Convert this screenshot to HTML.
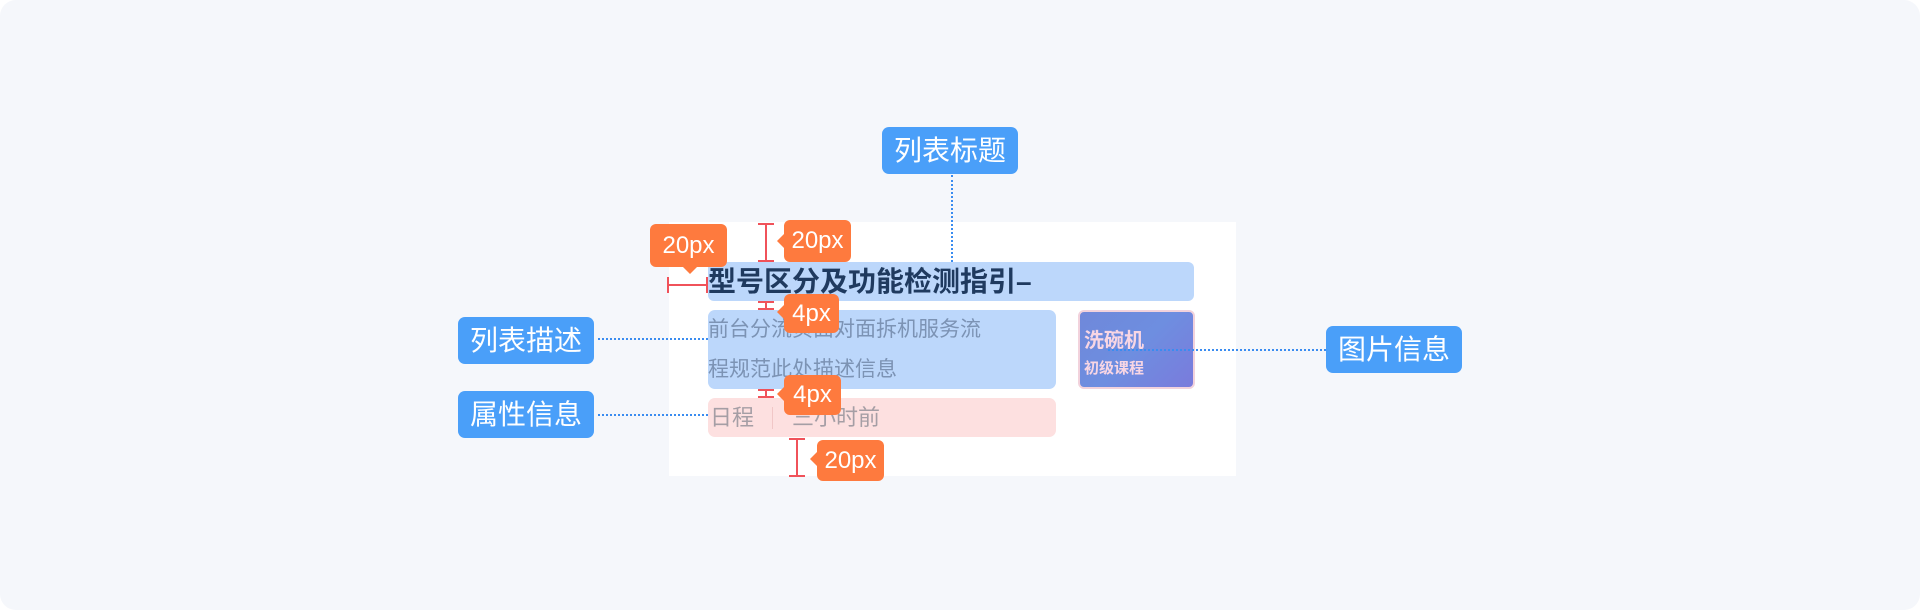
<!DOCTYPE html>
<html><head><meta charset="utf-8"><style>
*{margin:0;padding:0;box-sizing:border-box}
body{width:1920px;height:610px;background:#fff;position:relative;overflow:hidden;font-family:"Liberation Sans","Noto Sans CJK SC",sans-serif}
.a{position:absolute}
.bg{left:0;top:0;width:1920px;height:610px;background:#f5f7fb;border-radius:16px}
.lab{background:#4a9ff9;color:#fff;border-radius:7px;font-size:28px;text-align:center;line-height:47px;height:47px;width:136px}
.tag{background:#fe7a3e;color:#fff;border-radius:6px;font-size:24px;text-align:center}
.dv{border-left:2px dotted #3a8cf0}
.dh{border-top:2px dotted #3a8cf0}
.rv{background:#f0525a;width:2px}
.rh{background:#f0525a;height:2px}
</style></head><body>
<div class="a bg"></div>
<div class="a" style="left:669px;top:222px;width:567px;height:254px;background:#fff"></div>

<div class="a" style="left:708px;top:262px;width:486px;height:39px;background:#bcd7fb;border-radius:6px"></div>
<div class="a" style="left:708px;top:262px;font-size:28px;font-weight:bold;color:#1f3a5f;line-height:39px;white-space:nowrap">型号区分及功能检测指引–</div>

<div class="a" style="left:708px;top:310px;width:348px;height:79px;background:#bcd7fb;border-radius:7px"></div>
<div class="a" style="left:708px;top:310px;font-size:21px;color:#7c93b4;line-height:40px;width:360px;white-space:nowrap">前台分流页面对面拆机服务流<br>程规范此处描述信息</div>

<div class="a" style="left:1078px;top:310px;width:117px;height:79px;border-radius:6px;border:2px solid #f2d2dc;background:linear-gradient(135deg,#6f88da,#6e8ee0 50%,#7a7bdc)"></div>
<div class="a" style="left:1084px;top:328px;color:#f8d6e4;font-weight:bold;font-size:20px;line-height:26px">洗碗机<br><span style="font-size:15px">初级课程</span></div>

<div class="a" style="left:708px;top:398px;width:348px;height:39px;background:#fde0e0;border-radius:7px"></div>
<div class="a" style="left:710px;top:399px;font-size:22px;color:#a59ea5;line-height:37px;white-space:nowrap">日程</div>
<div class="a" style="left:772px;top:407px;width:1px;height:22px;background:#f1c7c7"></div>
<div class="a" style="left:792px;top:399px;font-size:22px;color:#a59ea5;line-height:37px;white-space:nowrap">三小时前</div>

<!-- labels -->
<div class="a lab" style="left:882px;top:127px">列表标题</div>
<div class="a lab" style="left:458px;top:317px">列表描述</div>
<div class="a lab" style="left:458px;top:391px">属性信息</div>
<div class="a lab" style="left:1326px;top:326px">图片信息</div>
<div class="a dv" style="left:951px;top:175px;height:87px"></div>
<div class="a dh" style="left:598px;top:338px;width:110px"></div>
<div class="a dh" style="left:598px;top:414px;width:110px"></div>
<div class="a dh" style="left:1108px;top:349px;width:218px"></div>

<!-- red markers -->
<div class="a rh" style="left:667px;top:284px;width:41px"></div>
<div class="a rv" style="left:667px;top:277px;height:16px"></div>
<div class="a rv" style="left:706px;top:277px;height:16px"></div>

<div class="a rv" style="left:765px;top:223px;height:39px"></div>
<div class="a rh" style="left:758px;top:223px;width:16px"></div>
<div class="a rh" style="left:758px;top:260px;width:16px"></div>

<div class="a rv" style="left:765px;top:301px;height:9px"></div>
<div class="a rh" style="left:758px;top:301px;width:16px"></div>
<div class="a rh" style="left:758px;top:308px;width:16px"></div>

<div class="a rv" style="left:765px;top:389px;height:9px"></div>
<div class="a rh" style="left:758px;top:389px;width:16px"></div>
<div class="a rh" style="left:758px;top:396px;width:16px"></div>

<div class="a rv" style="left:796px;top:438px;height:39px"></div>
<div class="a rh" style="left:789px;top:438px;width:16px"></div>
<div class="a rh" style="left:789px;top:475px;width:16px"></div>

<!-- tags -->
<div class="a tag" style="left:650px;top:224px;width:77px;height:43px;line-height:43px">20px</div>
<div class="a" style="left:682px;top:266px;border-left:8px solid transparent;border-right:8px solid transparent;border-top:8px solid #fe7a3e"></div>

<div class="a tag" style="left:784px;top:220px;width:67px;height:42px;line-height:42px">20px</div>
<div class="a" style="left:777px;top:234px;border-top:7px solid transparent;border-bottom:7px solid transparent;border-right:7px solid #fe7a3e"></div>

<div class="a tag" style="left:784px;top:294px;width:55px;height:39px;line-height:39px">4px</div>
<div class="a" style="left:777px;top:305px;border-top:7px solid transparent;border-bottom:7px solid transparent;border-right:7px solid #fe7a3e"></div>

<div class="a tag" style="left:784px;top:375px;width:57px;height:40px;line-height:40px">4px</div>
<div class="a" style="left:777px;top:387px;border-top:7px solid transparent;border-bottom:7px solid transparent;border-right:7px solid #fe7a3e"></div>

<div class="a tag" style="left:817px;top:440px;width:67px;height:41px;line-height:41px">20px</div>
<div class="a" style="left:810px;top:452px;border-top:7px solid transparent;border-bottom:7px solid transparent;border-right:7px solid #fe7a3e"></div>
</body></html>
